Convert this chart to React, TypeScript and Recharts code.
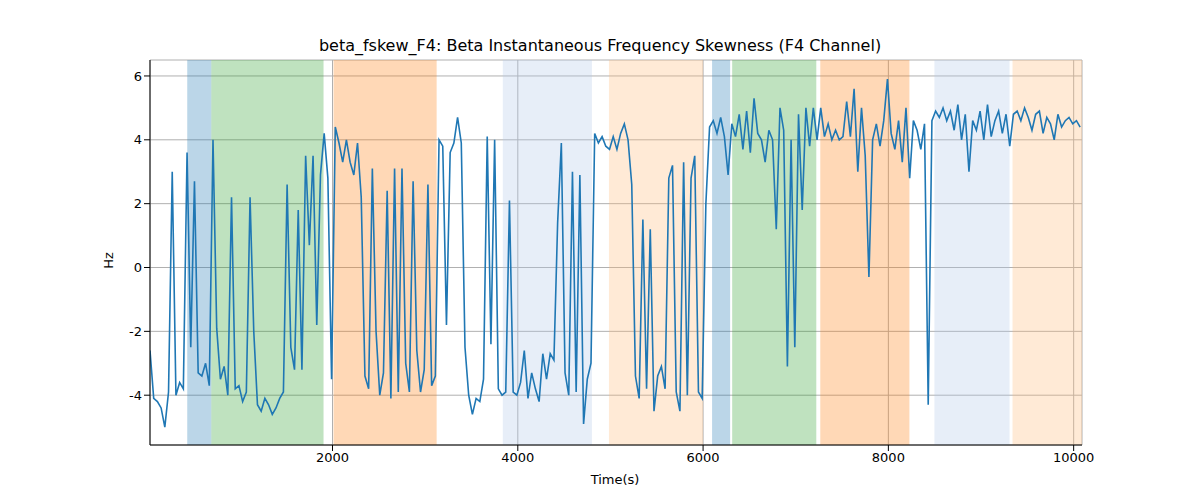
import { LineChart, Line, XAxis, YAxis, CartesianGrid, ReferenceArea } from 'recharts';

const startTime = 30;
const step = 40;
const skew = [
  -2.6, -4.1, -4.2, -4.4, -5.0, -3.9, 3.0, -4.0, -3.6, -3.8, 3.6, -2.5, 2.7, -3.3, -3.4, -3.0, -3.7, 4.0, -1.9, -3.5,
  -3.1, -4.0, 2.2, -3.8, -3.7, -4.2, -3.9, 2.2, -2.0, -4.3, -4.5, -4.1, -4.3, -4.6, -4.4, -4.1, -3.9, 2.6, -2.5, -3.2,
  1.8, -3.2, 3.5, 0.7, 3.5, -1.8, 2.9, 4.2, 2.8, -3.5, 4.4, 3.9, 3.3, 4.0, 3.3, 2.9, 3.9, 2.2, -3.4, -3.8,
  3.1, -2.0, -4.0, -3.3, 2.4, -4.1, 3.1, -3.9, 3.1, -3.0, -3.9, 2.7, -2.6, -3.9, -3.2, 2.6, -3.7, -3.4, 4.0, 3.8,
  -1.8, 3.6, 3.9, 4.7, 3.9, -2.5, -4.0, -4.6, -4.1, -4.2, -3.5, 4.1, -2.4, 4.0, -3.8, -4.0, -3.9, 2.1, -3.9, -4.0,
  -3.6, -2.6, -4.1, -3.3, -3.8, -4.2, -2.7, -3.5, -2.7, -2.9, 1.4, 3.9, -3.3, -4.0, 3.0, -3.9, 2.9, -4.9, -3.5, -3.0,
  4.2, 3.9, 4.1, 3.8, 3.7, 4.1, 3.7, 4.2, 4.5, 4.0, 2.6, -3.4, -4.1, 1.5, -3.8, 1.2, -4.5, -3.4, -3.1, -3.8,
  2.8, 3.2, -3.9, -4.5, 3.3, -4.0, 2.8, 3.5, -3.9, -4.1, 2.0, 4.4, 4.6, 4.2, 4.7, 4.1, 2.9, 4.5, 4.1, 4.8,
  3.7, 4.9, 3.6, 5.3, 4.2, 4.0, 3.3, 4.3, 4.0, 1.2, 5.0, 4.3, -3.1, 4.0, -2.5, 4.8, 1.8, 5.0, 3.8, 5.0,
  4.0, 5.0, 4.1, 4.5, 4.0, 4.3, 4.0, 4.1, 5.2, 4.1, 5.6, 3.0, 5.0, 3.5, -0.3, 4.0, 4.5, 3.8, 4.6, 5.9,
  4.2, 3.7, 4.6, 3.3, 5.0, 2.8, 4.6, 4.3, 3.7, 4.5, -4.3, 4.6, 4.9, 4.7, 5.0, 4.6, 4.9, 4.3, 5.1, 4.0,
  4.8, 3.0, 4.6, 4.3, 4.9, 4.0, 5.1, 4.1, 4.6, 4.9, 4.2, 4.8, 3.8, 4.8, 4.9, 4.6, 5.0, 4.7, 4.3, 4.8,
  4.9, 4.2, 4.7, 4.5, 4.0, 4.8, 4.4, 4.6, 4.7, 4.5, 4.6, 4.4,
];

const spans: [number, number, string, number][] = [
  [432, 692, '#1f77b4', 0.3],
  [692, 1903, '#2ca02c', 0.3],
  [2011, 3124, '#ff7f0e', 0.3],
  [3838, 4800, '#aec7e8', 0.3],
  [4984, 6000, '#ffbb78', 0.3],
  [6097, 6292, '#1f77b4', 0.3],
  [6314, 7222, '#2ca02c', 0.3],
  [7265, 8227, '#ff7f0e', 0.3],
  [8497, 9308, '#aec7e8', 0.3],
  [9340, 10090, '#ffbb78', 0.3],
];

const xTicks = [2000, 4000, 6000, 8000, 10000];
const yTicks = [-4, -2, 0, 2, 4, 6];

const data = skew.map((v, i) => ({ t: startTime + i * step, v }));

export default function App() {
  return (
    <div style={{ position: 'relative', width: 1200, height: 500, fontFamily: 'DejaVu Sans', margin: -8 }}>
      <div style={{ position: 'absolute', top: 36, width: 1200, textAlign: 'center', fontSize: 16 }}>
        beta_fskew_F4: Beta Instantaneous Frequency Skewness (F4 Channel)
      </div>
      <div style={{ position: 'absolute', left: 100, top: 253, fontSize: 13, transform: 'rotate(-90deg)' }}>Hz</div>
      <div style={{ position: 'absolute', top: 472, width: 1200, left: 15, textAlign: 'center', fontSize: 13 }}>Time(s)</div>
      <LineChart width={1200} height={500} data={data} margin={{ top: 60, right: 118, bottom: 25, left: 100 }}>
        {spans.map(([a, b, c, o], i) => (
          <ReferenceArea key={i} x1={a} x2={b} fill={c} fillOpacity={o} stroke="none" ifOverflow="hidden" />
        ))}
        <CartesianGrid stroke="#b0b0b0" strokeWidth={1} />
        <XAxis
          dataKey="t"
          type="number"
          domain={[30, 10090]}
          ticks={xTicks}
          allowDataOverflow
          tick={{ fill: '#000', fontSize: 13 }}
          stroke="#000"
          height={30}
        />
        <XAxis xAxisId="top" orientation="top" type="number" domain={[30, 10090]} tick={false} stroke="#000" height={0} />
        <YAxis
          type="number"
          domain={[-5.56, 6.5]}
          ticks={yTicks}
          allowDataOverflow
          tick={{ fill: '#000', fontSize: 13 }}
          stroke="#000"
          width={50}
        />
        <YAxis yAxisId="right" orientation="right" type="number" domain={[0, 1]} tick={false} stroke="#000" width={0} />
        <Line dataKey="v" stroke="#1f77b4" strokeWidth={1.6} dot={false} isAnimationActive={false} />
      </LineChart>
    </div>
  );
}
